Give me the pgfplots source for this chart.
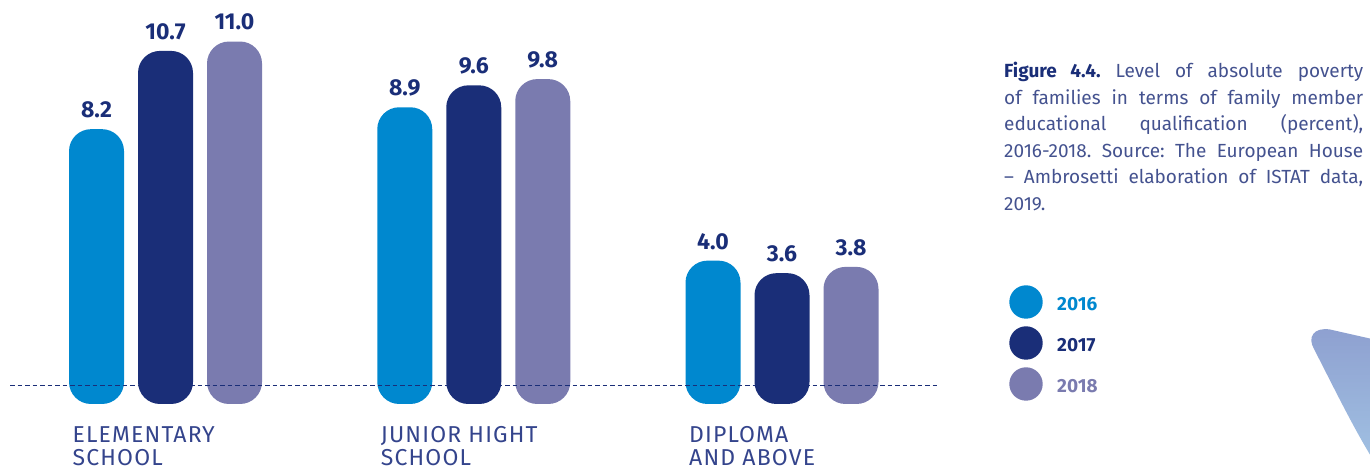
\documentclass[border=0pt]{standalone}
\usepackage{pgfplots}
\pgfplotsset{compat=1.18}
\usepackage{fontspec}
\setmainfont{Fira Sans}
\newfontfamily\catfont[LetterSpace=5]{Fira Sans}
\definecolor{c16}{HTML}{0088CF}
\definecolor{c17}{HTML}{1A2E78}
\definecolor{c18}{HTML}{7A7BAF}
\definecolor{txt}{HTML}{34448C}
\definecolor{capc}{HTML}{44528F}
\begin{document}
\frenchspacing
\begin{tikzpicture}[x=1pt,y=1pt]
\useasboundingbox (0,0) rectangle (1370,470);
\begin{axis}[
  at={(10pt,66pt)}, anchor=south west,
  scale only axis, width=930pt, height=404.1pt,
  xmin=-0.5045, xmax=2.5126,
  ymin=-0.58, ymax=12.33,
  y coord trafo/.code={\pgfmathparse{#1+0.58}},
  y coord inv trafo/.code={\pgfmathparse{#1-0.58}},
  clip=false,
  axis line style={draw=none}, major tick length=0pt,
  ytick=\empty, xtick={0,1,2},
  xticklabels={ELEMENTARY\\SCHOOL, JUNIOR HIGHT\\SCHOOL, DIPLOMA\\AND ABOVE},
  xticklabel style={align=left, anchor=north west, xshift=-93pt, yshift=-22pt,
    font=\catfont\fontsize{23}{23}\selectfont, text=txt, inner sep=0pt},
  ybar=14pt, bar width=55pt,
  point meta=rawy,
  nodes near coords={\pgfmathprintnumber[fixed,fixed zerofill,precision=1]{\pgfplotspointmeta}},
  /pgf/number format/assume math mode=true,
  every node near coord/.append style={font=\fontsize{23}{27}\selectfont\bfseries,
    text=c17, anchor=south, inner sep=0pt, yshift=11pt},
]
\addplot[fill=c16, draw=none, rounded corners=22pt] coordinates {(0,8.2) (1,8.9) (2,4.0)};
\addplot[fill=c17, draw=none, rounded corners=22pt] coordinates {(0,10.7) (1,9.6) (2,3.6)};
\addplot[fill=c18, draw=none, rounded corners=22pt] coordinates {(0,11.0) (1,9.8) (2,3.8)};
\draw[c17, line width=1.2pt, dash pattern=on 4.5pt off 3pt] (axis cs:-0.5045,0) -- (axis cs:2.5126,0);
\end{axis}
% caption
\node[anchor=north west, inner sep=0pt, text width=359pt, align=justify,
  font=\fontsize{19}{26.5}\selectfont, text=capc] at (1004,408)
  {{\bfseries\color{c17}Figure 4.4.} Level of absolute poverty\linebreak
   of families in terms of family member\linebreak
   educational qualification (percent),\linebreak
   2016-2018. Source: The European House\linebreak
   – Ambrosetti elaboration of ISTAT data,\linebreak
   2019.};
% legend
\fill[c16] (1026,168) circle[radius=16.7];
\fill[c17] (1026,127) circle[radius=16.7];
\fill[c18] (1026,86) circle[radius=16.7];
\node[anchor=base west, inner sep=0pt, font=\fontsize{19}{19}\selectfont\bfseries, text=c16] at (1057,159) {2016};
\node[anchor=base west, inner sep=0pt, font=\fontsize{19}{19}\selectfont\bfseries, text=c17] at (1057,118) {2017};
\node[anchor=base west, inner sep=0pt, font=\fontsize{19}{19}\selectfont\bfseries, text=c18] at (1057,77) {2018};
% decorative swoosh
\shade[top color={rgb,255:red,142;green,160;blue,208}, bottom color={rgb,255:red,160;green,192;blue,226}]
  (1372,131) -- (1330,140.5) .. controls (1314,143) and (1307,133) .. (1314,121)
  .. controls (1335,80) and (1352,45) .. (1372,12) -- cycle;
\end{tikzpicture}
\end{document}
